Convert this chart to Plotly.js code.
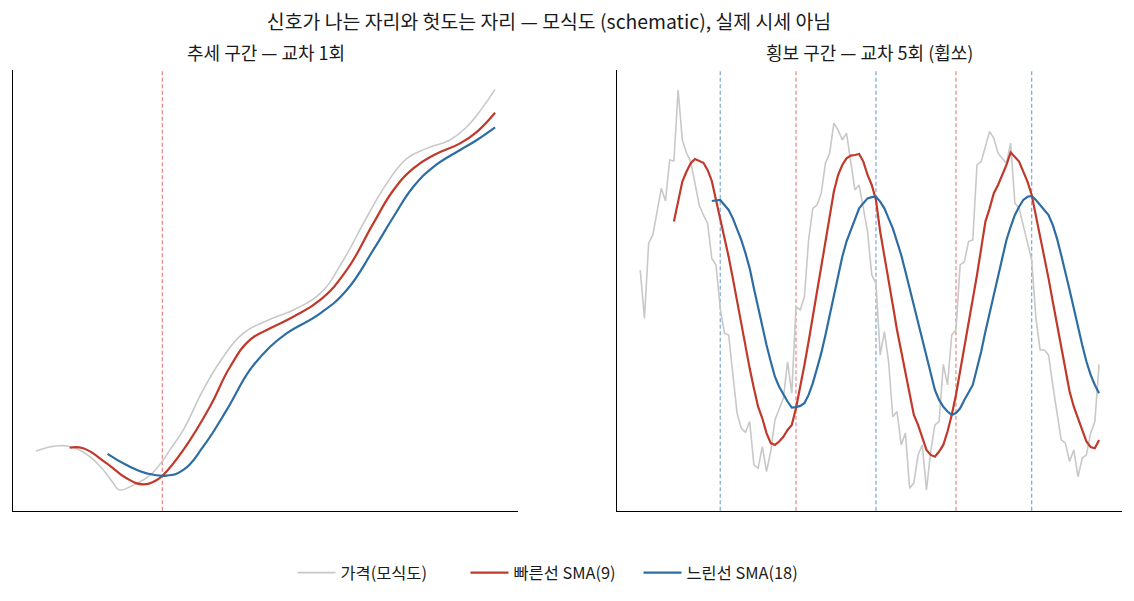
<!DOCTYPE html>
<html>
<head>
<meta charset="utf-8">
<script src="https://cdn.plot.ly/plotly-3.0.1.min.js"></script>
<style>
  html, body { margin: 0; padding: 0; background: #ffffff; }
  #chart { width: 1134px; height: 601px; }
</style>
</head>
<body>
<div id="chart"></div>
<script>
// ---------- Left panel: trend ----------
const trendPriceX = [0, 5.3, 9.3, 12.8, 16.0, 18.4, 19.8, 23.1, 27.1, 29.9, 31.8, 35.0, 39.7, 44.5, 49.2, 55.6, 61.1, 67.5, 73.0, 78.6, 83.3, 88.1, 92.8, 98.3, 102.3, 105.9, 109];
const trendPriceY = [109.9, 111.25, 110.6, 108.5, 105.2, 101.85, 100.2, 101.4, 103.9, 107.25, 110.2, 115.2, 125.2, 133.5, 139.35, 142.85, 145.2, 149.35, 157.7, 168.5, 176.85, 183.1, 185.6, 187.7, 191.0, 195.6, 200.35];

const trendFastX = [8, 11.2, 16.8, 21.5, 25.5, 28.7, 30.2, 35.0, 41.3, 46.1, 50.8, 55.6, 61.1, 67.5, 73.8, 80.1, 84.9, 89.6, 94.4, 100.7, 104.7, 109];
const trendFastY = [110.75, 110.6, 106.85, 103.1, 101.6, 102.7, 103.9, 110.2, 121.0, 131.0, 137.7, 140.6, 143.5, 147.7, 155.2, 166.85, 175.2, 180.6, 183.9, 186.85, 189.75, 194.5];

const trendSlowX = [17, 21.5, 26.3, 31.0, 35.0, 39.7, 45.3, 50.8, 55.6, 59.5, 67.5, 73.8, 80.1, 84.9, 89.6, 94.4, 100.7, 104.7, 109];
const trendSlowY = [109.2, 106.4, 104.35, 103.75, 105.2, 111.0, 120.2, 130.2, 136.0, 139.35, 144.35, 150.2, 160.2, 168.5, 176.0, 181.0, 185.2, 187.7, 190.85];

const trendCrossUp = [30];

// ---------- Right panel: sideways range ----------
const rangePrice = [
  105, 92.9, 111.7, 113.75, 119.6, 125.4, 122.25, 132.5, 132.25, 150,
  137.5, 134.2, 132.1, 127.1, 121.25, 118.75, 116.7, 107.9, 106.25, 95.4,
  89.2, 88.75, 78.75, 69.2, 65.4, 64.4, 67.1, 56.25, 55.4, 60.8,
  54.6, 59.6, 67.5, 70.4, 72.9, 82, 74.2, 95.8, 95, 98.3,
  112.5, 120.4, 121.25, 124.2, 131.7, 134.2, 141.7, 140, 137.5, 139.2,
  132.1, 125, 126.25, 120.4, 114.6, 103.75, 101.7, 83.75, 89.6, 82.1,
  68.3, 69.6, 61.25, 64.2, 50.4, 51.7, 58.75, 61.25, 50, 59.6,
  66.25, 67.1, 81.4, 76.25, 88.75, 90, 106.25, 107.1, 112.1, 112.5,
  131.25, 132.1, 135.8, 139.6, 137.9, 134.2, 132.9, 131.7, 136.7, 121.7,
  120.4, 116.25, 112.1, 107.5, 92.9, 85, 85, 83.75, 76.25, 69.2,
  62.5, 61.7, 57.1, 60, 53.3, 57.9, 58.75, 64.2, 67.1, 81.4
];
const rangeFastStart = 8;
const rangeFast = [
  117.1, 121.7, 127.1, 129.6, 131.7, 132.75, 132.3, 131.8, 130, 127.25,
  122.5, 117.9, 112.9, 108.3, 102.9, 97.1, 91.25, 85.4, 80.4, 75.4,
  70.8, 67.9, 64.2, 61.7, 61.25, 62.1, 63.3, 65, 66.25, 70.4,
  75.4, 81.25, 87.1, 93.75, 99.6, 105.8, 112.1, 118.75, 124.6, 128.75,
  131.25, 132.9, 133.6, 133.75, 134, 132.1, 128.75, 126.25, 122.5, 114.6,
  108.75, 102.5, 96.25, 90, 84.6, 78.75, 73.75, 68.75, 66.25, 63.3,
  60, 58.75, 58.3, 59.6, 61.25, 64.6, 68.75, 73.75, 79.6, 85.4,
  91.25, 97.1, 103.75, 110.4, 117.1, 120.4, 124.2, 126.25, 128.75, 131.25,
  134.4, 133.3, 132.1, 129.6, 127.1, 123.75, 118.75, 113.75, 108.3, 102.9,
  97.1, 91.25, 86.25, 80.4, 74.6, 70.8, 67.9, 65, 62.1, 60.7,
  60.4, 62.5
];
const rangeSlowStart = 17;
const rangeSlow = [
  122.25, 122.3, 122.5, 121.25, 120, 117.9, 115.4, 112.5, 109.2, 105.4,
  100.4, 95.4, 90.8, 86.25, 82.1, 78.3, 75.8, 73.75, 72.1, 70.6,
  70.7, 71, 71.7, 73.75, 76.7, 80.4, 84.2, 88.75, 93.75, 99.2,
  103.75, 108.3, 112.1, 115, 117.9, 120.4, 121.7, 122.9, 123.2, 123.3,
  122.1, 120.4, 117.9, 115.4, 112.1, 108.75, 104.6, 100.4, 95.8, 91.25,
  87.1, 82.9, 78.75, 75, 72.5, 70.8, 69.6, 68.75, 69.2, 70.4,
  72.5, 74.2, 76.25, 80.4, 84.6, 89.6, 94.2, 99.2, 103.75, 108.3,
  112.5, 115.8, 118.75, 120.8, 122.5, 123.3, 123.5, 122.5, 121.25, 120,
  118.75, 116.25, 112.9, 108.75, 104.6, 100, 95.4, 90.4, 86.25, 82.1,
  78.75, 76.25, 74.2
];
const rangeCrossUp = [37, 75];
const rangeCrossDown = [19, 56, 93];

// ---------- Labels ----------
const mainTitle = "신호가 나는 자리와 헛도는 자리 — 모식도 (schematic), 실제 시세 아님";
const leftTitle = "추세 구간 — 교차 1회";
const rightTitle = "횡보 구간 — 교차 5회 (휩쏘)";
const seriesNames = ["가격(모식도)", "빠른선 SMA(9)", "느린선 SMA(18)"];

// ---------- Styles ----------
const FONT = "'Noto Sans CJK KR', 'Noto Sans', sans-serif";
const cPrice = "#c8c8c8";
const cFast = "#c0392b";
const cSlow = "#2e6da4";
const cFastDash = "rgba(220, 80, 70, 0.75)";
const cSlowDash = "rgba(60, 125, 190, 0.75)";

function idx(start, n) { const a = []; for (let i = 0; i < n; i++) a.push(start + i); return a; }

const traces = [
  { x: trendPriceX, y: trendPriceY, type: "scatter", mode: "lines", name: seriesNames[0],
    line: { color: cPrice, width: 1.6, shape: "spline", smoothing: 1.3 }, xaxis: "x", yaxis: "y" },
  { x: trendFastX, y: trendFastY, type: "scatter", mode: "lines", name: seriesNames[1],
    line: { color: cFast, width: 2.2, shape: "spline", smoothing: 1.3 }, xaxis: "x", yaxis: "y" },
  { x: trendSlowX, y: trendSlowY, type: "scatter", mode: "lines", name: seriesNames[2],
    line: { color: cSlow, width: 2.2, shape: "spline", smoothing: 1.3 }, xaxis: "x", yaxis: "y" },
  { x: idx(0, rangePrice.length), y: rangePrice, type: "scatter", mode: "lines", name: seriesNames[0],
    line: { color: cPrice, width: 1.6 }, xaxis: "x2", yaxis: "y2", showlegend: false },
  { x: idx(rangeFastStart, rangeFast.length), y: rangeFast, type: "scatter", mode: "lines", name: seriesNames[1],
    line: { color: cFast, width: 2.2 }, xaxis: "x2", yaxis: "y2", showlegend: false },
  { x: idx(rangeSlowStart, rangeSlow.length), y: rangeSlow, type: "scatter", mode: "lines", name: seriesNames[2],
    line: { color: cSlow, width: 2.2 }, xaxis: "x2", yaxis: "y2", showlegend: false }
];

function vline(xv, xref, yref, color) {
  return { type: "line", xref: xref, yref: yref + " domain", x0: xv, x1: xv, y0: 0, y1: 1,
           line: { color: color, width: 1.1, dash: "4px,2.5px" }, layer: "below" };
}
const shapes = [];
trendCrossUp.forEach(v => shapes.push(vline(v, "x", "y", cFastDash)));
rangeCrossUp.forEach(v => shapes.push(vline(v, "x2", "y2", cFastDash)));
rangeCrossDown.forEach(v => shapes.push(vline(v, "x2", "y2", cSlowDash)));

const nPts = rangePrice.length - 1;
const xr = [-0.05 * nPts, 1.05 * nPts];
const axBase = { showgrid: false, zeroline: false, showticklabels: false, ticks: "",
                 showline: true, linecolor: "#000000", linewidth: 1.2, fixedrange: true };

const yTop = 1 - 70 / 601, yBot = 1 - 510.7 / 601;

const layout = {
  width: 1134, height: 601,
  margin: { l: 0, r: 0, t: 0, b: 0 },
  paper_bgcolor: "#ffffff", plot_bgcolor: "#ffffff",
  font: { family: FONT, color: "#1a1a1a" },
  title: { text: mainTitle, x: 549 / 1134, xanchor: "center", xref: "paper",
           y: 1 - 22 / 601, yanchor: "middle", yref: "paper",
           font: { family: FONT, size: 19.4, color: "#1a1a1a" } },
  xaxis: Object.assign({}, axBase, { domain: [13 / 1134, 518 / 1134], range: xr, anchor: "y" }),
  yaxis: Object.assign({}, axBase, { domain: [yBot, yTop], range: [95, 205.2], anchor: "x" }),
  xaxis2: Object.assign({}, axBase, { domain: [617.3 / 1134, 1122 / 1134], range: xr, anchor: "y2" }),
  yaxis2: Object.assign({}, axBase, { domain: [yBot, yTop], range: [44.8, 155], anchor: "x2" }),
  shapes: shapes,
  annotations: [
    { text: leftTitle, xref: "paper", yref: "paper", x: 265.5 / 1134, y: 1 - 52 / 601,
      xanchor: "center", yanchor: "middle", showarrow: false, font: { family: FONT, size: 18, color: "#1a1a1a" } },
    { text: rightTitle, xref: "paper", yref: "paper", x: 869.5 / 1134, y: 1 - 52 / 601,
      xanchor: "center", yanchor: "middle", showarrow: false, font: { family: FONT, size: 18, color: "#1a1a1a" } }
  ],
  showlegend: true,
  legend: { orientation: "h", x: 552 / 1134, xanchor: "center", y: 1 - 573 / 601, yanchor: "middle",
            font: { family: FONT, size: 16.4, color: "#1a1a1a" }, bgcolor: "rgba(0,0,0,0)",
            itemwidth: 38, traceorder: "normal", entrywidth: 120, entrywidthmode: "pixels" },
  hovermode: false
};

Plotly.newPlot("chart", traces, layout, { staticPlot: true, displayModeBar: false });
</script>
</body>
</html>
